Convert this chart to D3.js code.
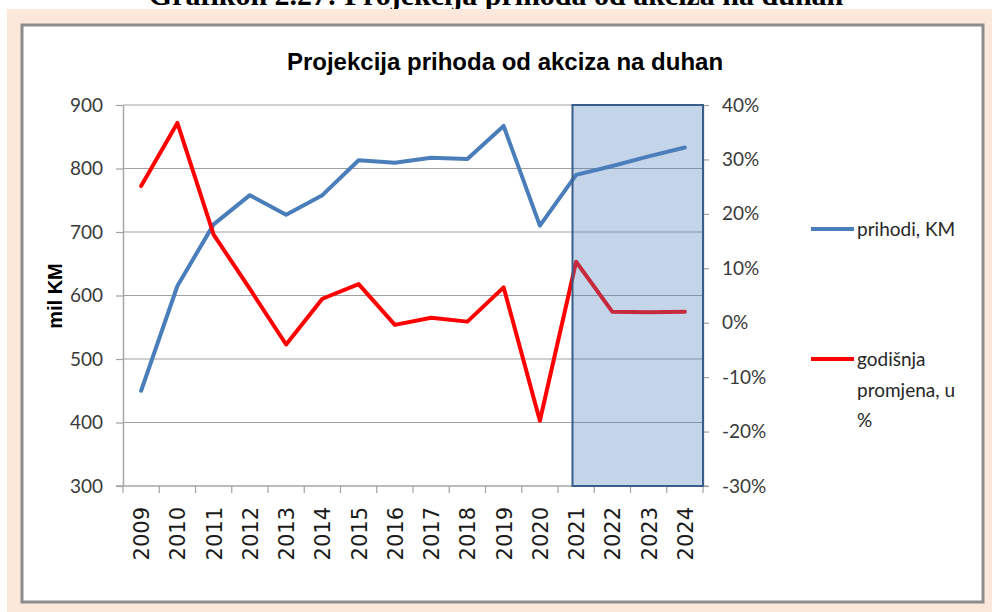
<!DOCTYPE html>
<html>
<head>
<meta charset="utf-8">
<script src="https://cdn.jsdelivr.net/npm/d3@7"></script>
<style>
  body { margin: 0; background: #fff; }
  svg { display: block; }
</style>
</head>
<body>
<div id="chart-area"></div>
<script>
// data
const years = ["2009", "2010", "2011", "2012", "2013", "2014", "2015", "2016",
               "2017", "2018", "2019", "2020", "2021", "2022", "2023", "2024"];
const prihodi = [450, 615, 712, 758, 727, 758, 813, 809, 817, 815, 867, 710, 790, 804, 819, 833];
const promjena = [0.251, 0.367, 0.162, 0.062, -0.040, 0.044, 0.071, -0.004, 0.009, 0.002, 0.065, -0.180, 0.112, 0.020, 0.019, 0.020];
const leftTicks = [300, 400, 500, 600, 700, 800, 900];
const rightTicks = [-0.3, -0.2, -0.1, 0, 0.1, 0.2, 0.3, 0.4];
const projectionStart = "2021";

const width = 992, height = 612;
const plot = { left: 123, right: 703, top: 105, bottom: 486 };

const blue = "#4a7ebb", red = "#ff0000";
const labelFont = "Lato, 'Open Sans', sans-serif";

const svg = d3.select("#chart-area").append("svg")
    .attr("width", width)
    .attr("height", height);

// page heading (cut off at the top in the reference)
svg.append("text")
    .attr("x", 496)
    .attr("y", 5)
    .attr("text-anchor", "middle")
    .attr("font-family", "'Liberation Serif', 'Times New Roman', serif")
    .attr("font-weight", "bold")
    .attr("font-size", 30)
    .text("Grafikon 2.27: Projekcija prihoda od akciza na duhan");

// peach frame and white chart box
svg.append("rect")
    .attr("x", 7).attr("y", 9)
    .attr("width", width - 7).attr("height", height - 9)
    .attr("fill", "#fce8da");
svg.append("rect")
    .attr("x", 22).attr("y", 25)
    .attr("width", 961).attr("height", 577)
    .attr("fill", "#fff")
    .attr("stroke", "#8c8c8c")
    .attr("stroke-width", 3);

// scales
const x = d3.scaleBand().domain(years).range([plot.left, plot.right]);
const bw = x.bandwidth();
const cx = d => x(d) + bw / 2;
const yL = d3.scaleLinear().domain([300, 900]).range([plot.bottom, plot.top]);
const yR = d3.scaleLinear().domain([-0.3, 0.4]).range([plot.bottom, plot.top]);

// gridlines
svg.append("g")
    .selectAll("line")
    .data(leftTicks.slice(1))
    .join("line")
    .attr("x1", plot.left).attr("x2", plot.right)
    .attr("y1", d => yL(d)).attr("y2", d => yL(d))
    .attr("stroke", "#a0a0a0")
    .attr("stroke-width", 1.2);

// left axis
const gLeft = svg.append("g")
    .attr("transform", `translate(${plot.left},0)`)
    .call(d3.axisLeft(yL).tickValues(leftTicks).tickSize(7).tickSizeOuter(0).tickPadding(13));
gLeft.select(".domain").attr("stroke", "#a6a6a6").attr("stroke-width", 1.5);
gLeft.selectAll(".tick line").attr("stroke", "#a0a0a0").attr("stroke-width", 1.2);
gLeft.selectAll(".tick text")
    .attr("font-family", labelFont).attr("font-size", 19).attr("fill", "#3a3a3a");

// right axis (plain hyphen for negatives, as in the reference)
const pct = d => d3.format(".0%")(d).replace("\u2212", "-");
const gRight = svg.append("g")
    .attr("transform", `translate(${plot.right},0)`)
    .call(d3.axisRight(yR).tickValues(rightTicks).tickFormat(pct).tickSize(6).tickSizeOuter(0).tickPadding(13));
gRight.select(".domain").attr("stroke", "#a6a6a6").attr("stroke-width", 1.5);
gRight.selectAll(".tick line").attr("stroke", "#a0a0a0").attr("stroke-width", 1.2);
gRight.selectAll(".tick text")
    .attr("font-family", labelFont).attr("font-size", 19).attr("fill", "#3a3a3a");

// bottom axis: ticks sit on the category boundaries
const gBottom = svg.append("g");
gBottom.append("line")
    .attr("x1", plot.left - 7).attr("x2", plot.right + 5)
    .attr("y1", plot.bottom).attr("y2", plot.bottom)
    .attr("stroke", "#a6a6a6").attr("stroke-width", 1.5);
gBottom.selectAll(".xtick")
    .data(years.map(d => x(d)).concat([plot.right]))
    .join("line")
    .attr("class", "xtick")
    .attr("x1", d => d).attr("x2", d => d)
    .attr("y1", plot.bottom).attr("y2", plot.bottom + 7)
    .attr("stroke", "#a0a0a0").attr("stroke-width", 1.2);
gBottom.selectAll(".xlabel")
    .data(years)
    .join("text")
    .attr("class", "xlabel")
    .attr("transform", d => `translate(${cx(d) + 8},507) rotate(-90)`)
    .attr("text-anchor", "end")
    .attr("font-family", "'DejaVu Sans', sans-serif")
    .attr("font-size", 21)
    .attr("fill", "#1a1a1a")
    .text(d => d);

// y axis title
svg.append("text")
    .attr("transform", "translate(62,296) rotate(-90)")
    .attr("text-anchor", "middle")
    .attr("font-family", "'Liberation Sans', Arial, sans-serif")
    .attr("font-weight", "bold")
    .attr("font-size", 20)
    .text("mil KM");

// chart title
svg.append("text")
    .attr("x", 505)
    .attr("y", 70)
    .attr("text-anchor", "middle")
    .attr("font-family", "'Liberation Sans', Arial, sans-serif")
    .attr("font-weight", "bold")
    .attr("font-size", 24)
    .text("Projekcija prihoda od akciza na duhan");

// lines
const lineL = d3.line().x((d, i) => cx(years[i])).y(d => yL(d));
const lineR = d3.line().x((d, i) => cx(years[i])).y(d => yR(d));

svg.append("path")
    .datum(prihodi)
    .attr("d", lineL)
    .attr("fill", "none")
    .attr("stroke", blue)
    .attr("stroke-width", 4)
    .attr("stroke-linejoin", "round")
    .attr("stroke-linecap", "round");

svg.append("path")
    .datum(promjena)
    .attr("d", lineR)
    .attr("fill", "none")
    .attr("stroke", red)
    .attr("stroke-width", 4)
    .attr("stroke-linejoin", "round")
    .attr("stroke-linecap", "round");

// projection overlay, drawn over the lines
svg.append("rect")
    .attr("x", x(projectionStart) + bw * 0.4)
    .attr("y", plot.top)
    .attr("width", plot.right - (x(projectionStart) + bw * 0.4))
    .attr("height", plot.bottom - plot.top)
    .attr("fill", "#4f81bd")
    .attr("fill-opacity", 0.33)
    .attr("stroke", "#385d8a")
    .attr("stroke-width", 2);

// legend
const legend = [
    { color: blue, lines: ["prihodi, KM"], y: 229 },
    { color: red, lines: ["godišnja", "promjena, u", "%"], y: 359 }
];
const gLegend = svg.append("g");
legend.forEach(item => {
    gLegend.append("line")
        .attr("x1", 811).attr("x2", 854)
        .attr("y1", item.y).attr("y2", item.y)
        .attr("stroke", item.color)
        .attr("stroke-width", 4);
    const t = gLegend.append("text")
        .attr("x", 857)
        .attr("y", item.y + 7)
        .attr("font-family", labelFont)
        .attr("font-size", 19)
        .attr("fill", "#262626");
    item.lines.forEach((s, i) => {
        t.append("tspan").attr("x", 857).attr("dy", i ? 30.5 : 0).text(s);
    });
});
</script>
</body>
</html>
